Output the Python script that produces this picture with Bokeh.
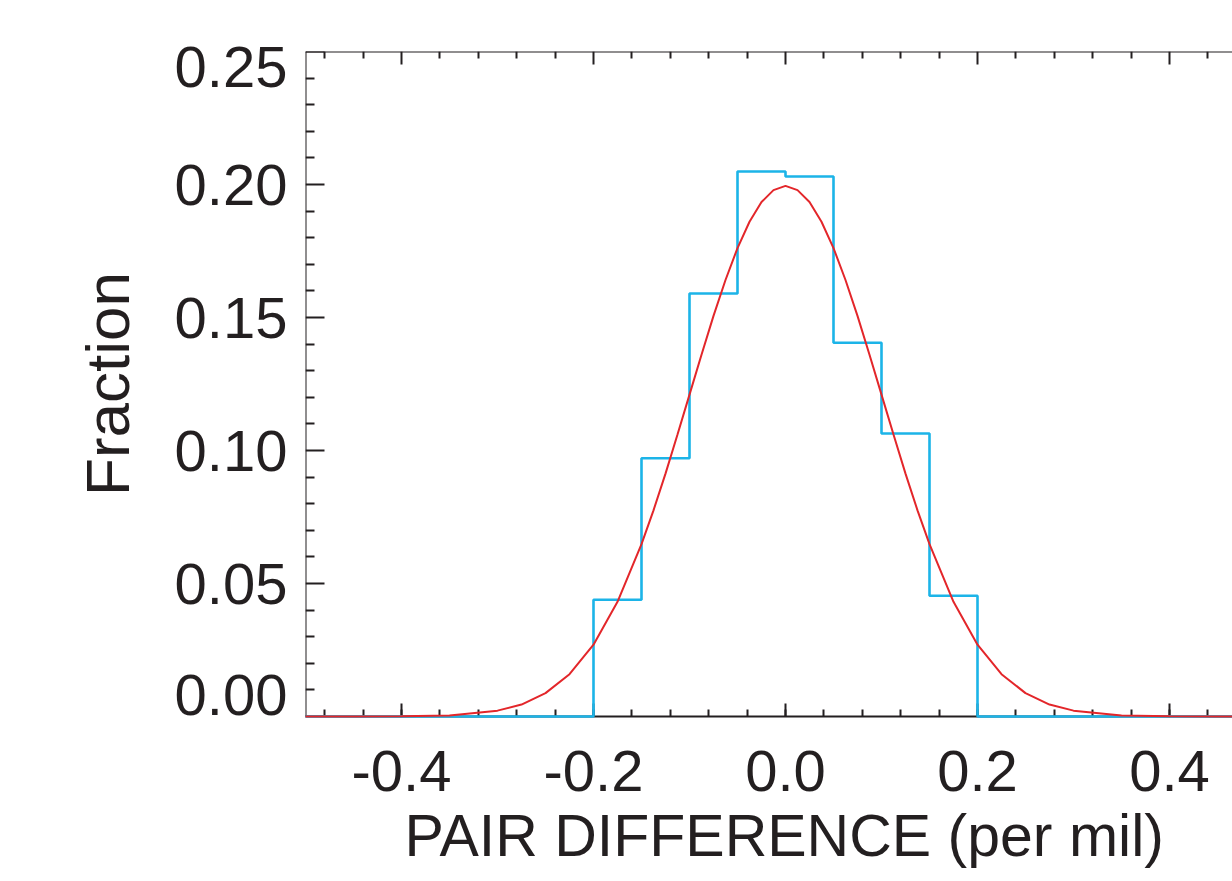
from bokeh.plotting import figure
from bokeh.models import (Range1d, LinearAxis, SingleIntervalTicker, FixedTicker,
                          PrintfTickFormatter, CustomJSTickFormatter, Title)
from bokeh.embed import file_html
from bokeh.resources import INLINE

# ---------------- data ----------------
bin_edges = [-0.50, -0.45, -0.40, -0.35, -0.30, -0.25, -0.20, -0.15, -0.10, -0.05,
             0.00, 0.05, 0.10, 0.15, 0.20, 0.25, 0.30, 0.35, 0.40, 0.45, 0.50]
fraction = [0.0, 0.0, 0.0, 0.0, 0.0, 0.0,
            0.0439, 0.0971, 0.1590, 0.2049, 0.2030, 0.1405, 0.1064, 0.0454,
            0.0, 0.0, 0.0, 0.0, 0.0, 0.0]

fit_x = [-0.50, -0.45, -0.40, -0.35, -0.30, -0.275, -0.25, -0.225, -0.20, -0.175,
         -0.15, -0.1375, -0.125, -0.1125, -0.10, -0.0875, -0.075, -0.0625, -0.05,
         -0.0375, -0.025, -0.0125, 0.0, 0.0125, 0.025, 0.0375, 0.05, 0.0625, 0.075,
         0.0875, 0.10, 0.1125, 0.125, 0.1375, 0.15, 0.175, 0.20, 0.225, 0.25, 0.275,
         0.30, 0.35, 0.40, 0.45, 0.50]
fit_y = [0.0, 0.0, 0.0001, 0.0004, 0.0022, 0.0045, 0.0088, 0.0159, 0.0270, 0.0431,
         0.0648, 0.0775, 0.0913, 0.1060, 0.1210, 0.1360, 0.1506, 0.1641, 0.1761,
         0.1860, 0.1934, 0.1979, 0.1995, 0.1979, 0.1934, 0.1860, 0.1761, 0.1641, 0.1506,
         0.1360, 0.1210, 0.1060, 0.0913, 0.0775, 0.0648, 0.0431, 0.0270, 0.0159, 0.0088, 0.0045,
         0.0022, 0.0004, 0.0001, 0.0, 0.0]

x_ticks = [-0.4, -0.2, 0.0, 0.2, 0.4]
y_ticks = [0.00, 0.05, 0.10, 0.15, 0.20, 0.25]
y_tick_labels = ["0.00", "0.05", "0.10", "0.15", "0.20", "0.25"]
x_title = "PAIR DIFFERENCE (per mil)"
y_title = "Fraction"

# ---------------- layout ----------------
W, H = 1232, 878
FL, FT, FB = 305, 51, 716
PX_PER_X = 960.0
x_start = -0.5
x_end = x_start + (W - FL) / PX_PER_X
y_start, y_end = 0.0, 0.25
PX_PER_Y = (FB - FT) / (y_end - y_start)
FONT = "Liberation Sans"
INK = "#231f20"

p = figure(width=W, height=H, output_backend="svg", toolbar_location=None,
           x_range=Range1d(x_start, x_end), y_range=Range1d(y_start, y_end),
           x_axis_location=None, y_axis_location=None,
           min_border_left=FL, min_border_top=FT, min_border_right=0,
           min_border_bottom=H - FB)
p.outline_line_color = None
p.xgrid.visible = False
p.ygrid.visible = False
p.background_fill_color = "white"
p.border_fill_color = "white"


def base(ax, line=True):
    ax.axis_line_color = INK if line else None
    ax.axis_line_width = 2
    ax.major_tick_line_color = INK
    ax.minor_tick_line_color = INK
    ax.major_tick_line_width = 2
    ax.minor_tick_line_width = 2
    ax.major_tick_out = 0
    ax.minor_tick_out = 0
    ax.major_label_standoff = 0


# minor positions (every 1/5 of a major interval), excluding majors
x_minor = [round(-0.6 + 0.04 * i, 2) for i in range(31) if i % 5 != 0]
x_minor = [v for v in x_minor if x_start <= v <= x_end]
y_minor = [round(0.01 * i, 2) for i in range(26) if i % 5 != 0]

# ---- bottom axis (ticks + labels) ----
xb = LinearAxis(ticker=SingleIntervalTicker(interval=0.2, num_minor_ticks=5),
                formatter=PrintfTickFormatter(format="%.1f"))
base(xb)
xb.major_tick_in = 13
xb.minor_tick_in = 7
xb.major_label_text_font = FONT
xb.major_label_text_font_size = "58px"
xb.major_label_text_color = INK
xb.major_label_standoff = 34
p.add_layout(xb, "below")

# x title (centred on the full -0.5..0.5 axis of the original, which runs past the window)
p.add_layout(Title(text=x_title, align="left", offset=99, standoff=14,
                   text_font=FONT, text_font_size="59px", text_font_style="normal",
                   text_color=INK), "below")

# ---- top axis: ticks only ----
xt_minor = LinearAxis(ticker=FixedTicker(ticks=[], minor_ticks=x_minor), fixed_location=y_end)
base(xt_minor)
xt_minor.minor_tick_in = 7
p.add_layout(xt_minor, "above")
xt_major = LinearAxis(ticker=FixedTicker(ticks=[], minor_ticks=x_ticks), fixed_location=y_end)
base(xt_major, line=False)
xt_major.minor_tick_in = 13
p.add_layout(xt_major, "above")

# ---- left axis: ticks only ----
yl_minor = LinearAxis(ticker=FixedTicker(ticks=[], minor_ticks=y_minor), fixed_location=x_start)
base(yl_minor)
yl_minor.minor_tick_in = 9
p.add_layout(yl_minor, "left")
yl_major = LinearAxis(ticker=FixedTicker(ticks=[], minor_ticks=y_ticks), fixed_location=x_start)
base(yl_major, line=False)
yl_major.minor_tick_in = 19
p.add_layout(yl_major, "left")

# ---- left axis: labels (end labels pulled inside the axis extent) ----
label_pos = []
for v in y_ticks:
    off = 22 if v == y_start else (-15 if v == y_end else 0)
    label_pos.append(v + off / PX_PER_Y)
yl_lab = LinearAxis(ticker=FixedTicker(ticks=label_pos, minor_ticks=[]),
                    formatter=CustomJSTickFormatter(args=dict(labels=y_tick_labels),
                                                    code="return labels[index]"))
base(yl_lab, line=False)
yl_lab.major_tick_line_color = None
yl_lab.major_tick_in = 0
yl_lab.major_label_standoff = 18
yl_lab.major_label_text_font = FONT
yl_lab.major_label_text_font_size = "58px"
yl_lab.major_label_text_color = INK
yl_lab.axis_label = y_title
yl_lab.axis_label_text_font = FONT
yl_lab.axis_label_text_font_size = "62px"
yl_lab.axis_label_text_font_style = "normal"
yl_lab.axis_label_text_color = INK
yl_lab.axis_label_standoff = 30
p.add_layout(yl_lab, "left")

# ---- data ----
step_y = fraction + [fraction[-1]]
p.step(bin_edges, step_y, mode="after", line_color="#1cb4e8", line_width=2.6, level="overlay")
p.line(fit_x, fit_y, line_color="#e3262a", line_width=2, level="overlay")

open("out.html", "w").write(file_html(p, INLINE))
